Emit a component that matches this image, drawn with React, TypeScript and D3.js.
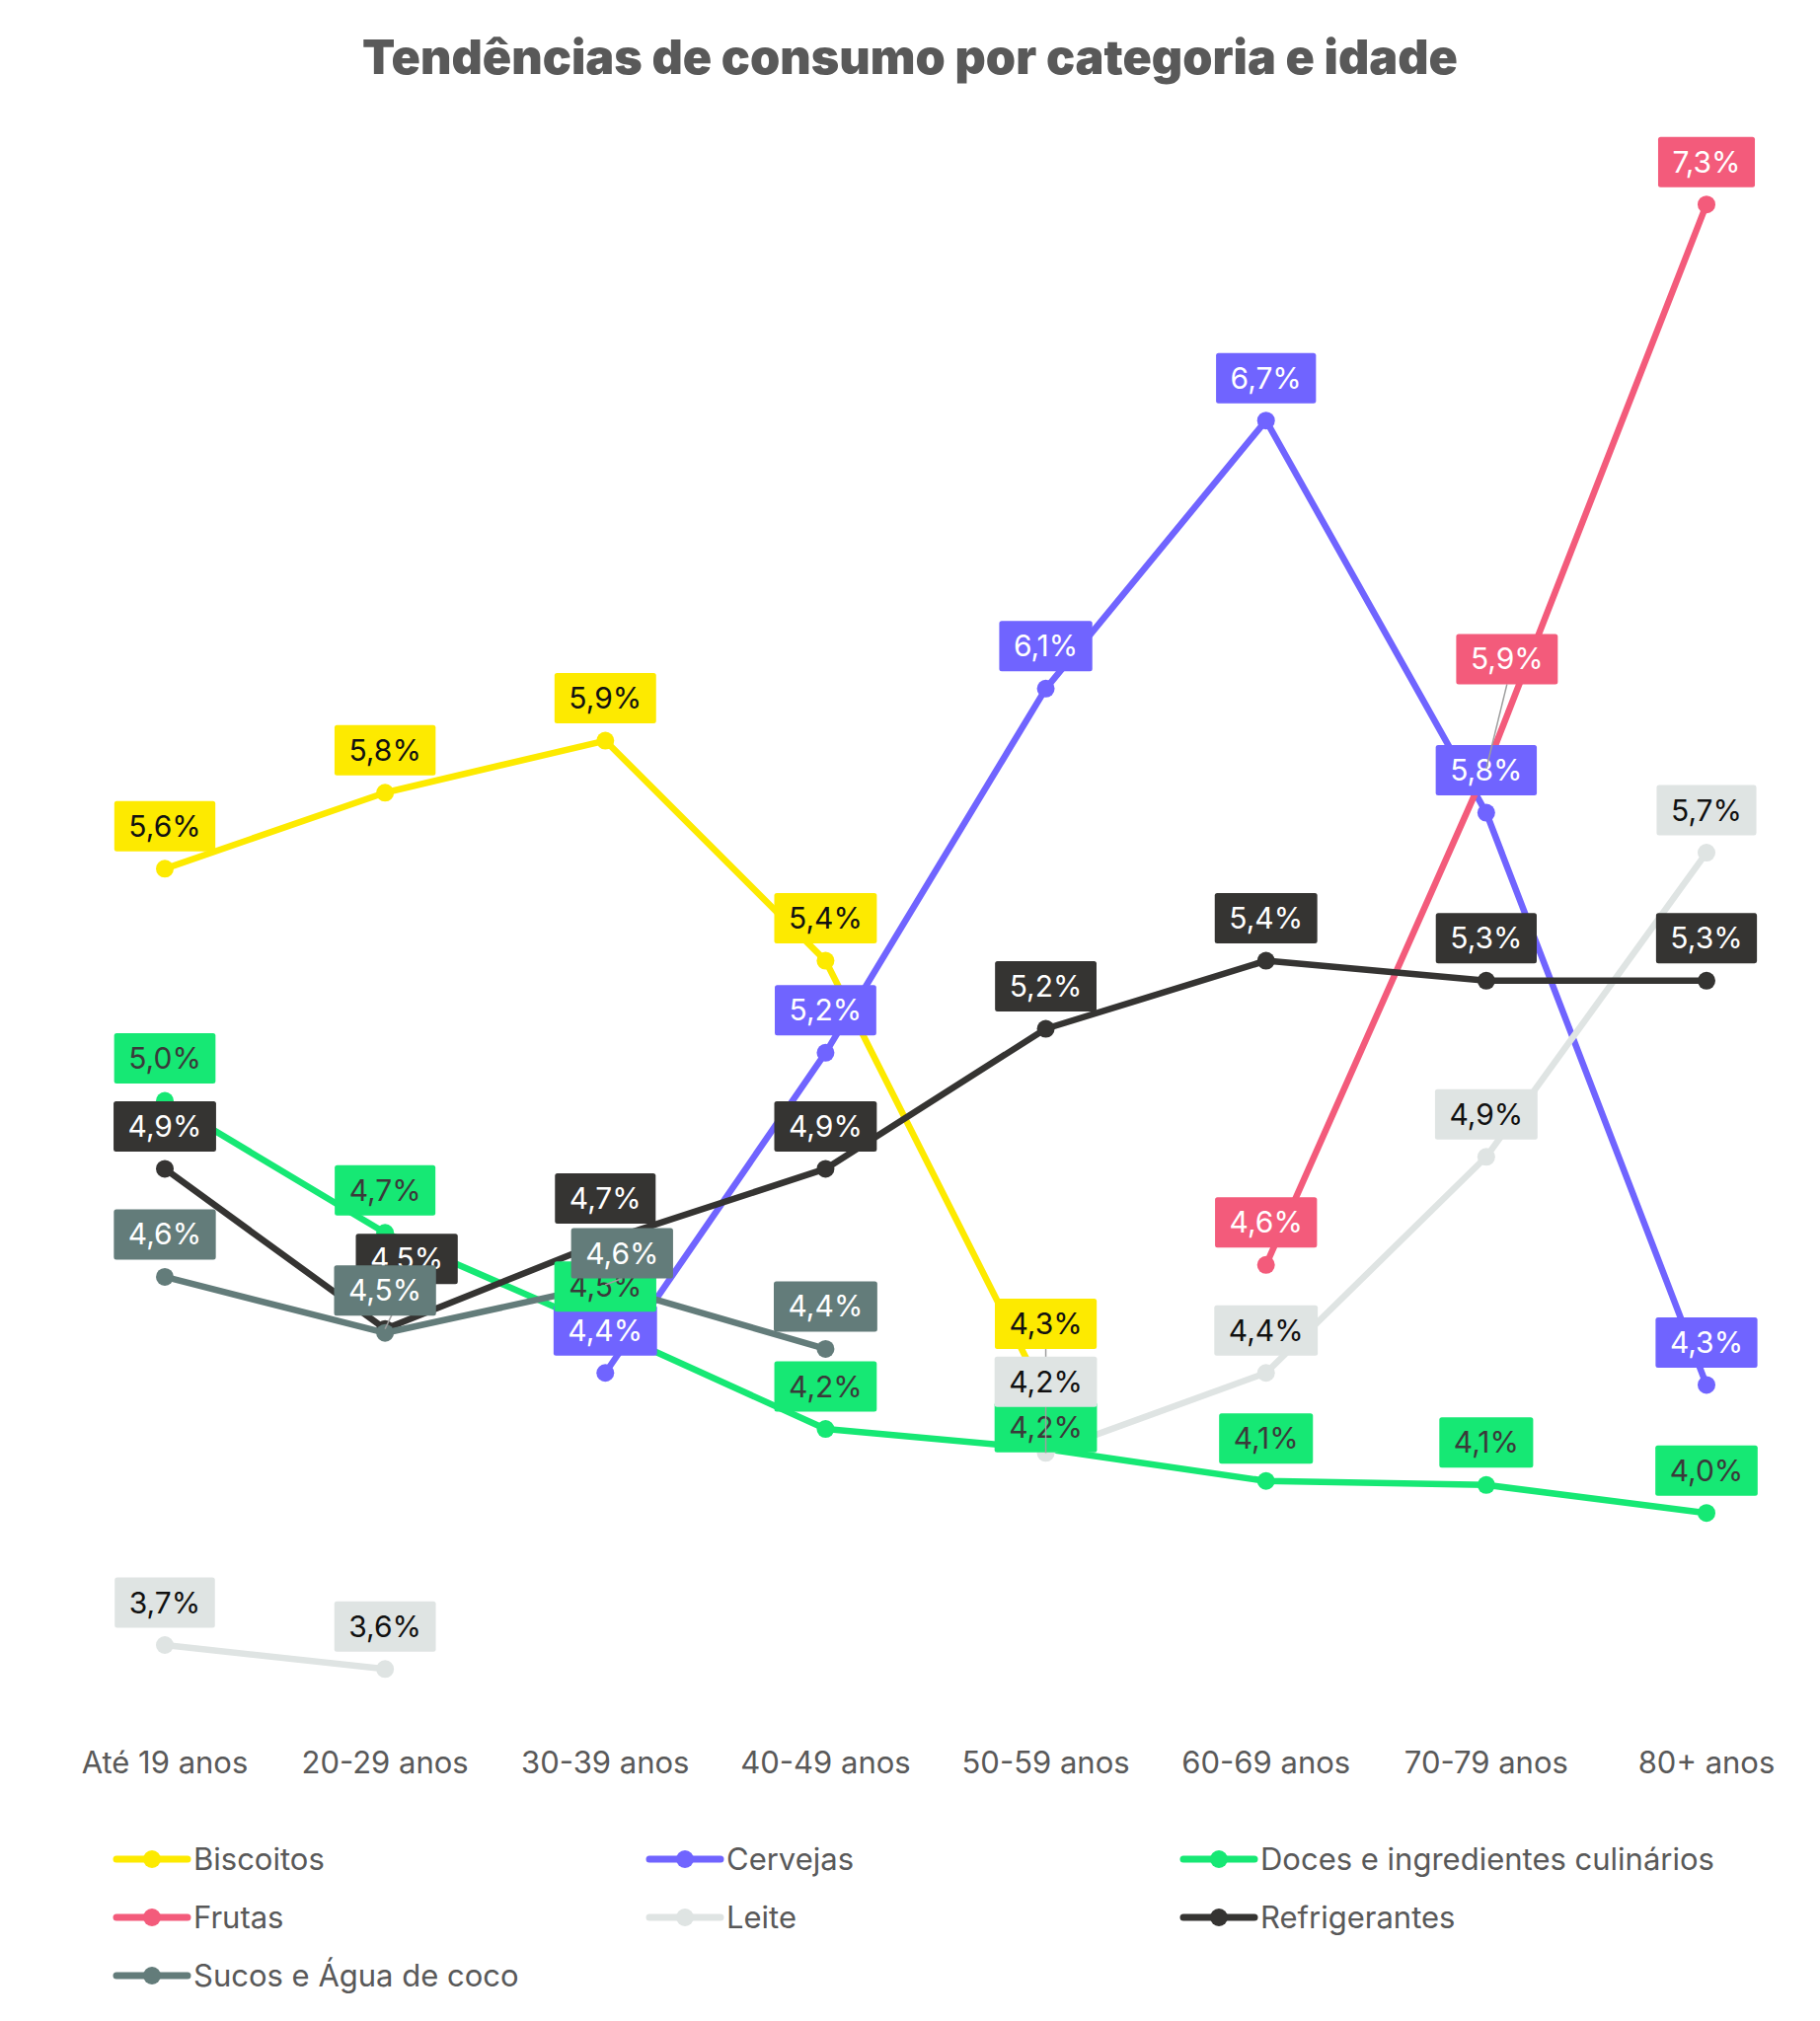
import React from 'react';
import * as d3 from 'd3';

const categories = ["Até 19 anos", "20-29 anos", "30-39 anos", "40-49 anos", "50-59 anos", "60-69 anos", "70-79 anos", "80+ anos"];

const seriesNames = ["Biscoitos", "Cervejas", "Doces e ingredientes culinários", "Frutas", "Leite", "Refrigerantes", "Sucos e Água de coco"];

const biscoitos = [5.62, 5.81, 5.94, 5.39, 4.30, null, null, null];
const cervejas = [null, null, 4.36, 5.16, 6.07, 6.74, 5.76, 4.33];
const doces = [5.04, 4.71, 4.47, 4.22, 4.17, 4.09, 4.08, 4.01];
const frutas = [null, null, null, null, null, 4.63, 5.87, 7.28];
const leite = [3.68, 3.62, null, null, 4.16, 4.36, 4.90, 5.66];
const refrigerantes = [4.87, 4.47, 4.69, 4.87, 5.22, 5.39, 5.34, 5.34];
const sucos = [4.60, 4.46, 4.58, 4.42, null, null, null, null];

const seriesValues = [biscoitos, cervejas, doces, frutas, leite, refrigerantes, sucos];

const seriesColors = ["#FDEA00", "#7064FF", "#16E874", "#F35B7B", "#DFE4E3", "#353432", "#637C7A"];
const labelTextColors = ["#111111", "#FFFFFF", "#3A3A3A", "#FFFFFF", "#111111", "#FFFFFF", "#FFFFFF"];

// label displacement (collision avoidance) for the few labels that were moved
const labelNudges = [
  { series: 0, index: 4, dx: 0, dy: -31 },
  { series: 2, index: 4, dx: 0, dy: 21 },
  { series: 3, index: 6, dx: 21, dy: -68 },
  { series: 4, index: 4, dx: 0, dy: -29 },
  { series: 5, index: 1, dx: 22, dy: -28 },
  { series: 6, index: 2, dx: 17, dy: 11 },
];

const W = 1844;
const H = 2048;
const FONT = "Inter, 'Noto Sans', sans-serif";
const LABEL_FS = 30;

let ctx: CanvasRenderingContext2D | null = null;
function textWidth(s: string, font: string) {
  if (!ctx) {
    const c = document.createElement('canvas');
    ctx = c.getContext('2d');
  }
  if (!ctx) return s.length * 17;
  ctx.font = font;
  return ctx.measureText(s).width;
}

const fmt = (v: number) => d3.format(".1f")(v).replace(".", ",") + "%";

export default function App() {
  const x = d3.scalePoint<string>().domain(categories).range([167, 1729]);
  const y = d3.scaleLinear().domain([3.5, 7.4]).range([1740, 158.5]);

  const line = d3.line<number | null>()
    .defined((d) => d != null)
    .x((_, i) => x(categories[i]) as number)
    .y((d) => y(d as number));

  const boxH = 51;
  const gap = 17.5;

  const labels = seriesValues.map((vals, si) =>
    vals.map((v, i) => {
      if (v == null) return null;
      const px = x(categories[i]) as number;
      const py = y(v);
      const txt = fmt(v);
      const tw = textWidth(txt, `${LABEL_FS}px Inter`);
      const bw = tw + 29;
      const nudge = labelNudges.find((n) => n.series === si && n.index === i);
      const cx = px + (nudge ? nudge.dx : 0);
      const cy = py - gap - boxH / 2 + (nudge ? nudge.dy : 0);
      return { px, py, txt, bw, cx, cy, moved: !!nudge };
    })
  );

  const legendCols = [118, 658, 1199];
  const legendRows = [1884, 1943, 2002];

  return (
    <svg width={W} height={H} style={{ position: 'absolute', left: 0, top: 0, background: '#fff' }} fontFamily={FONT}>
      <rect x={0} y={0} width={W} height={H} fill="#fff" />
      <text x={W / 2} y={75} textAnchor="middle" fontSize={48.5} fontWeight={900} fill="#595959">
        Tendências de consumo por categoria e idade
      </text>

      {seriesValues.map((vals, si) => (
        <g key={"s" + si}>
          <path d={line(vals) || ""} fill="none" stroke={seriesColors[si]} strokeWidth={6.5} strokeLinejoin="round" strokeLinecap="round" />
          {vals.map((v, i) =>
            v == null ? null : (
              <circle key={i} cx={x(categories[i]) as number} cy={y(v)} r={9} fill={seriesColors[si]} />
            )
          )}
        </g>
      ))}

      {labels.map((ls, si) => (
        <g key={"l" + si}>
          {ls.map((l, i) => {
            if (!l) return null;
            const bottom = l.cy + boxH / 2;
            return (
              <g key={i}>
                {l.moved && l.py > bottom ? (
                  <line x1={l.cx} y1={bottom} x2={l.px} y2={l.py} stroke="#9E9E9E" strokeWidth={1.5} />
                ) : null}
                <rect x={l.cx - l.bw / 2} y={l.cy - boxH / 2} width={l.bw} height={boxH} rx={2.5} fill={seriesColors[si]} />
                <text x={l.cx} y={l.cy + 10.5} textAnchor="middle" fontSize={LABEL_FS} fill={labelTextColors[si]}>
                  {l.txt}
                </text>
              </g>
            );
          })}
        </g>
      ))}

      {categories.map((c) => (
        <text key={c} x={x(c) as number} y={1797} textAnchor="middle" fontSize={31} fill="#595959">
          {c}
        </text>
      ))}

      {seriesNames.map((name, si) => {
        const lx = legendCols[si % 3];
        const ly = legendRows[Math.floor(si / 3)];
        return (
          <g key={"lg" + si}>
            <line x1={lx} y1={ly} x2={lx + 72} y2={ly} stroke={seriesColors[si]} strokeWidth={7} strokeLinecap="round" />
            <circle cx={lx + 36} cy={ly} r={9} fill={seriesColors[si]} />
            <text x={lx + 78} y={ly + 11} fontSize={31} fill="#595959">
              {name}
            </text>
          </g>
        );
      })}
    </svg>
  );
}
